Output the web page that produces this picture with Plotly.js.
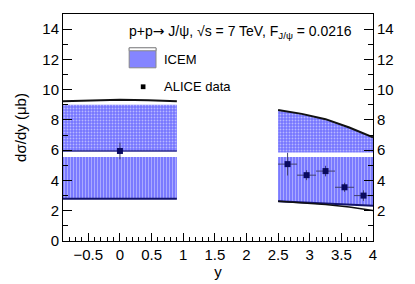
<!DOCTYPE html>
<html>
<head>
<meta charset="utf-8">
<script src="https://cdn.plot.ly/plotly-3.0.1.min.js"></script>
<style>html,body{margin:0;padding:0;background:#fff;}#chart{width:415px;height:284px;}</style>
</head>
<body>
<div id="chart"></div>
<script>
// ICEM band, central rapidity
var yLeft = [-0.9, -0.45, 0, 0.45, 0.9];
var leftLine = [9.24, 9.31, 9.34, 9.3, 9.23];
var leftFillTop = [9.0, 9.0, 9.0, 9.0, 9.0];
var leftMid = [5.95, 5.95, 5.95, 5.95, 5.95];
var leftGap = [5.55, 5.55, 5.55, 5.55, 5.55];
var leftLow = [2.8, 2.8, 2.8, 2.8, 2.8];
// ICEM band, forward rapidity
var yRight = [2.5, 2.875, 3.25, 3.625, 4.0];
var rightTop = [8.65, 8.4, 8.05, 7.5, 6.85];
var rightMid = [5.85, 5.85, 5.85, 5.85, 5.85];
var rightGap = [5.55, 5.55, 5.55, 5.55, 5.55];
var rightLow = [2.62, 2.55, 2.48, 2.4, 2.33];
var rightLine = [2.62, 2.53, 2.42, 2.24, 2.02];
// ALICE data
var dataY = [0, 2.65, 2.95, 3.25, 3.55, 3.85];
var dataVal = [5.95, 5.08, 4.35, 4.62, 3.55, 3.0];
var dataErr = [0.55, 0.75, 0.33, 0.35, 0.3, 0.35];
var dataXErr = [0, 0.15, 0.15, 0.15, 0.15, 0.15];
var yTicks = [0, 2, 4, 6, 8, 10, 12, 14];
var xTicks = [-0.5, 0, 0.5, 1, 1.5, 2, 2.5, 3, 3.5, 4];

var dotPat = {shape: '.', bgcolor: '#7575ff', fgcolor: '#b8b8ff', size: 3, solidity: 0.3};
var linePat = {shape: '|', bgcolor: '#7a7aff', fgcolor: '#aaaaff', size: 3, solidity: 0.34};
var none = {width: 0};

function band(x, top, bot, pat) {
  return [
    {x: x, y: top, mode: 'lines', line: none, hoverinfo: 'skip', showlegend: false},
    {x: x, y: bot, mode: 'lines', line: none, fill: 'tonexty', fillcolor: pat.bgcolor, fillpattern: pat, hoverinfo: 'skip', showlegend: false}
  ];
}
function ln(x, y, c, w) {
  return {x: x, y: y, mode: 'lines', line: {color: c, width: w}, hoverinfo: 'skip', showlegend: false};
}

var traces = [].concat(
  band(yLeft, leftFillTop, leftMid, dotPat),
  band(yLeft, leftGap, leftLow, linePat),
  band(yRight, rightTop, rightMid, dotPat),
  band(yRight, rightGap, rightLow, linePat),
  [ln(yLeft, leftLine, '#111', 2),
   ln(yLeft, leftMid, '#2a2a90', 1.5),
   ln(yLeft, leftLow, '#14146e', 2),
   ln(yRight, rightTop, '#111', 2),
   ln(yRight, rightLow, '#14146e', 2),
   ln(yRight, rightLine, '#111', 1.5),
   {x: dataY, y: dataVal, mode: 'markers', showlegend: false,
    marker: {symbol: 'square', size: 6, color: '#0a0a60'},
    error_y: {type: 'data', array: dataErr, color: '#404070', thickness: 1, width: 0},
    error_x: {type: 'data', array: dataXErr, color: '#404070', thickness: 1, width: 0}},
   {x: [0], y: [0], yaxis: 'y2', mode: 'markers', marker: {opacity: 0}, showlegend: false, hoverinfo: 'skip'}]
);

var fam = 'Liberation Sans, Arial, sans-serif';
var fnt = {family: fam, size: 15, color: '#000'};
var small = {family: fam, size: 13, color: '#000'};
var titleFont = {family: fam, size: 14, color: '#000'};
var layout = {
  width: 415, height: 284,
  margin: {l: 63, r: 42, t: 14, b: 43},
  paper_bgcolor: '#fff', plot_bgcolor: '#fff',
  font: fnt,
  showlegend: false,
  xaxis: {
    range: [-0.9, 4], showgrid: false, zeroline: false,
    showline: true, linecolor: '#000', linewidth: 1, mirror: true,
    ticks: 'inside', ticklen: 8, tickcolor: '#000',
    tickvals: xTicks, ticktext: xTicks.map(function(v){return v < 0 ? '\u2212' + (-v) : String(v);}),
    minor: {ticks: 'inside', dtick: 0.1, tick0: 0, ticklen: 4, tickcolor: '#000'},
    tickfont: fnt,
    title: {text: 'y', font: fnt, standoff: 3}
  },
  yaxis: {
    range: [0, 15], showgrid: false, zeroline: false,
    showline: true, linecolor: '#000', linewidth: 1,
    ticks: 'inside', ticklen: 9, tickcolor: '#000',
    tickvals: yTicks,
    minor: {ticks: 'inside', dtick: 1, tick0: 0, ticklen: 5, tickcolor: '#000'},
    tickfont: fnt,
    title: {text: 'd\u03c3/dy (\u03bcb)', font: fnt, standoff: 12}
  },
  yaxis2: {
    range: [0, 15], overlaying: 'y', side: 'right', showgrid: false, zeroline: false,
    showline: true, linecolor: '#000', linewidth: 1,
    ticks: 'inside', ticklen: 9, tickcolor: '#000',
    tickvals: yTicks.slice(1),
    minor: {ticks: 'inside', dtick: 1, tick0: 0, ticklen: 5, tickcolor: '#000'},
    tickfont: fnt
  },
  shapes: [
    {type: 'rect', xref: 'paper', yref: 'paper', x0: 0.2135, x1: 0.300, y0: 0.763, y1: 0.851,
     fillcolor: '#8585ff', line: {color: '#888', width: 1}},
    {type: 'rect', xref: 'paper', yref: 'paper', x0: 0.2135, x1: 0.300, y0: 0.838, y1: 0.851,
     fillcolor: '#fff', line: {color: '#888', width: 1}},
    {type: 'rect', xref: 'paper', yref: 'paper', x0: 0.251, x1: 0.266, y0: 0.669, y1: 0.690,
     fillcolor: '#000', line: {width: 0}}
  ],
  annotations: [
    {xref: 'paper', yref: 'paper', x: 0.208, y: 0.922, xanchor: 'left', yanchor: 'middle', showarrow: false,
     text: 'p+p<span style="font-family:DejaVu Sans">\u2192</span> J/\u03c8, \u221as = 7 TeV, F<sub>J/\u03c8</sub> = 0.0216', font: titleFont},
    {xref: 'paper', yref: 'paper', x: 0.318, y: 0.80, xanchor: 'left', yanchor: 'middle', showarrow: false,
     text: 'ICEM', font: small},
    {xref: 'paper', yref: 'paper', x: 0.318, y: 0.68, xanchor: 'left', yanchor: 'middle', showarrow: false,
     text: 'ALICE data', font: small}
  ]
};
Plotly.newPlot('chart', traces, layout, {staticPlot: true, displayModeBar: false});
</script>
</body>
</html>
